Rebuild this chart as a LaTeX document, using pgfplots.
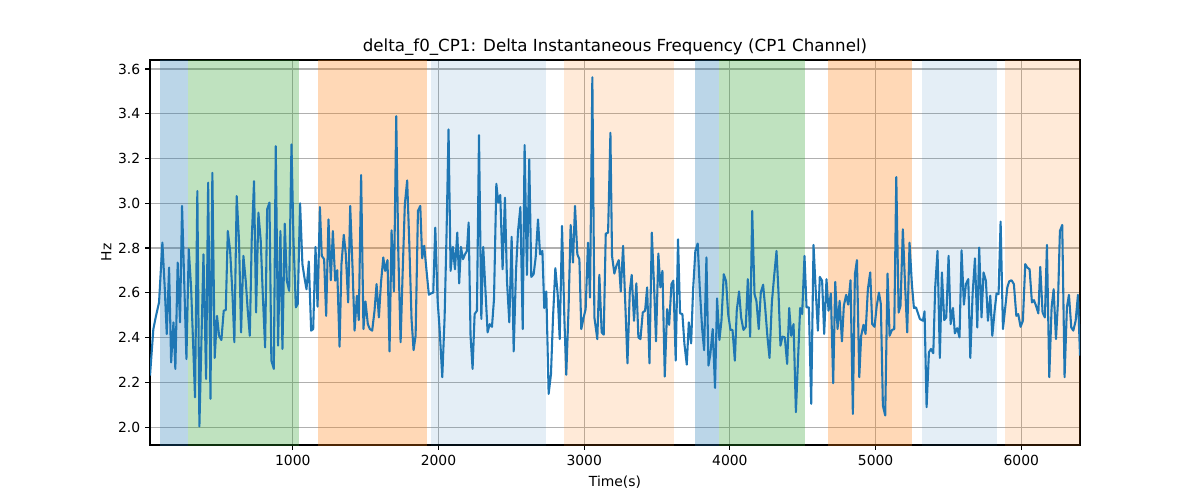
\documentclass[border=0pt]{standalone}
\usepackage{fontspec}
\setmainfont{DejaVu Sans}
\usepackage{pgfplots}
\pgfplotsset{compat=1.18}
\definecolor{tabblue}{HTML}{1F77B4}
\definecolor{taborange}{HTML}{FF7F0E}
\definecolor{tabgreen}{HTML}{2CA02C}
\definecolor{gridgray}{HTML}{B0B0B0}
\begin{document}
\begin{tikzpicture}
\path[use as bounding box] (0,0) rectangle (864pt,360pt);
\begin{axis}[
  at={(108pt,39.6pt)}, anchor=south west,
  width=669.6pt, height=277.2pt, scale only axis,
  xmin=20, xmax=6403, ymin=1.92, ymax=3.64,
  xtick={1000,2000,3000,4000,5000,6000},
  ytick={2.0,2.2,2.4,2.6,2.8,3.0,3.2,3.4,3.6},
  yticklabel style={/pgf/number format/.cd, fixed, fixed zerofill, precision=1},
  xticklabel style={/pgf/number format/1000 sep={}},
  /pgf/number format/assume math mode=true,
  ticklabel style={font=\fontsize{10}{12}\selectfont},
  tick align=outside, xtick pos=left, ytick pos=left,
  major tick length=3.5pt,
  tick style={black, line width=0.8pt},
  axis line style={black, line width=0.8pt},
  grid=major, grid style={gridgray, line width=0.8pt},
  title={delta\_f0\_CP1: Delta Instantaneous Frequency (CP1 Channel)},
  title style={font=\fontsize{12}{14}\selectfont, at={(0.5,1)}, anchor=south, yshift=-6pt},
  xlabel={Time(s)}, ylabel={Hz},
  label style={font=\fontsize{10}{12}\selectfont},
  xlabel style={yshift=-1pt},
  ylabel style={yshift=-2pt},
  clip=true,
]
% spans
\addplot[draw=none, fill=tabblue, fill opacity=0.3] coordinates {(89,1.8) (282,1.8) (282,3.8) (89,3.8)} --cycle;
\addplot[draw=none, fill=tabgreen, fill opacity=0.3] coordinates {(282,1.8) (1044,1.8) (1044,3.8) (282,3.8)} --cycle;
\addplot[draw=none, fill=taborange, fill opacity=0.3] coordinates {(1170,1.8) (1918,1.8) (1918,3.8) (1170,3.8)} --cycle;
\addplot[draw=none, fill=tabblue, fill opacity=0.12] coordinates {(1946,1.8) (2736,1.8) (2736,3.8) (1946,3.8)} --cycle;
\addplot[draw=none, fill=taborange, fill opacity=0.16] coordinates {(2861,1.8) (3615,1.8) (3615,3.8) (2861,3.8)} --cycle;
\addplot[draw=none, fill=tabblue, fill opacity=0.3] coordinates {(3759,1.8) (3926,1.8) (3926,3.8) (3759,3.8)} --cycle;
\addplot[draw=none, fill=tabgreen, fill opacity=0.3] coordinates {(3926,1.8) (4514,1.8) (4514,3.8) (3926,3.8)} --cycle;
\addplot[draw=none, fill=taborange, fill opacity=0.3] coordinates {(4672,1.8) (5249,1.8) (5249,3.8) (4672,3.8)} --cycle;
\addplot[draw=none, fill=tabblue, fill opacity=0.12] coordinates {(5318,1.8) (5836,1.8) (5836,3.8) (5318,3.8)} --cycle;
\addplot[draw=none, fill=taborange, fill opacity=0.16] coordinates {(5890,1.8) (6500,1.8) (6500,3.8) (5890,3.8)} --cycle;
% series
\addplot[tabblue, line width=1.5pt, mark=none, line join=round] coordinates {
(20,2.230) (43,2.438) (59,2.490) (82,2.557) (105,2.824) (121,2.624) (135,2.416) (151,2.713) (165,2.289) (181,2.468)
(194,2.260) (210,2.735) (226,2.468) (240,2.988) (256,2.624) (270,2.304) (286,2.795) (302,2.624) (316,2.371) (329,2.133)
(345,3.055) (359,2.003) (373,2.386) (387,2.772) (405,2.215) (419,3.092) (435,2.126) (448,3.136) (464,2.309) (480,2.497)
(494,2.408) (510,2.389) (526,2.520) (540,2.523) (554,2.876) (570,2.787) (586,2.594) (599,2.379) (615,3.032) (631,2.832)
(645,2.423) (661,2.765) (677,2.654) (691,2.520) (705,2.408) (718,2.832) (734,3.099) (748,2.512) (764,2.958) (780,2.832)
(794,2.594) (810,2.356) (824,2.973) (840,3.003) (853,2.297) (870,2.260) (883,3.255) (899,2.364) (915,2.876) (929,2.349)
(945,2.909) (959,2.654) (975,2.609) (991,3.263) (1005,2.832) (1021,2.535) (1034,2.550) (1050,3.000) (1066,2.728) (1080,2.668)
(1094,2.616) (1110,2.740) (1126,2.431) (1140,2.438) (1156,2.805) (1170,2.538) (1186,2.983) (1199,2.765) (1215,2.750) (1229,2.497)
(1245,2.928) (1261,2.656) (1275,2.876) (1291,2.654) (1305,2.701) (1321,2.359) (1334,2.728) (1350,2.859) (1364,2.772) (1380,2.557)
(1394,2.988) (1410,2.713) (1424,2.431) (1440,2.587) (1453,2.478) (1469,3.126) (1485,2.438) (1499,2.561) (1515,2.460) (1529,2.438)
(1545,2.431) (1561,2.520) (1575,2.639) (1591,2.490) (1605,2.642) (1621,2.758) (1634,2.698) (1650,2.746) (1664,2.338) (1678,2.879)
(1694,2.606) (1710,3.389) (1724,2.787) (1740,2.379) (1753,2.668) (1769,2.995) (1785,3.102) (1799,2.832) (1815,2.483) (1829,2.344)
(1843,2.408) (1859,2.966) (1875,2.988) (1888,2.754) (1902,2.810) (1918,2.698) (1934,2.591) (1948,2.597) (1964,2.601) (1978,2.891)
(1994,2.564) (2007,2.445) (2026,2.223) (2042,2.490) (2055,2.854) (2069,3.330) (2083,2.698) (2099,2.805) (2113,2.705) (2129,2.869)
(2142,2.642) (2154,2.805) (2168,2.750) (2182,2.772) (2195,2.787) (2207,2.914) (2220,2.408) (2234,2.260) (2248,2.505) (2264,2.520)
(2278,3.304) (2294,2.483) (2307,2.805) (2323,2.602) (2337,2.423) (2351,2.460) (2367,2.448) (2381,2.572) (2397,3.087) (2410,3.003)
(2424,3.037) (2440,2.705) (2456,3.025) (2470,2.654) (2486,2.468) (2502,2.850) (2516,2.338) (2532,2.698) (2546,2.876) (2562,2.983)
(2578,2.438) (2591,3.260) (2607,2.680) (2623,3.196) (2637,2.671) (2653,2.683) (2667,2.758) (2683,2.928) (2697,2.772) (2713,2.787)
(2726,2.532) (2740,2.606) (2756,2.148) (2772,2.237) (2786,2.490) (2802,2.710) (2818,2.594) (2832,2.393) (2848,2.899) (2864,2.483)
(2877,2.234) (2893,2.535) (2907,2.903) (2923,2.735) (2937,2.988) (2953,2.772) (2967,2.750) (2980,2.438) (2996,2.490) (3010,2.527)
(3026,2.824) (3040,2.579) (3056,3.563) (3070,2.490) (3090,2.393) (3104,2.680) (3120,2.423) (3134,2.413) (3148,2.864) (3164,2.869)
(3180,3.315) (3191,2.765) (3207,2.686) (3221,2.720) (3237,2.746) (3251,2.606) (3267,2.810) (3283,2.535) (3297,2.285) (3313,2.606)
(3326,2.680) (3342,2.475) (3358,2.642) (3372,2.401) (3386,2.393) (3402,2.512) (3418,2.520) (3432,2.624) (3448,2.285) (3464,2.869)
(3480,2.624) (3493,2.383) (3509,2.775) (3523,2.624) (3537,2.698) (3553,2.226) (3569,2.527) (3583,2.457) (3599,2.639) (3612,2.654)
(3628,2.297) (3644,2.839) (3658,2.508) (3674,2.505) (3688,2.371) (3704,2.279) (3718,2.468) (3734,2.374) (3747,2.609) (3763,2.787)
(3779,2.820) (3793,2.624) (3809,2.445) (3823,2.344) (3839,2.758) (3853,2.275) (3866,2.327) (3882,2.438) (3898,2.175) (3912,2.575)
(3928,2.389) (3942,2.475) (3958,2.683) (3974,2.651) (3988,2.505) (4004,2.434) (4018,2.434) (4034,2.297) (4047,2.520) (4063,2.606)
(4077,2.490) (4093,2.434) (4109,2.448) (4123,2.661) (4139,2.404) (4153,2.966) (4169,2.594) (4182,2.564) (4198,2.438) (4212,2.601)
(4228,2.636) (4242,2.535) (4258,2.401) (4272,2.309) (4288,2.557) (4304,2.676) (4320,2.787) (4334,2.594) (4347,2.364) (4361,2.404)
(4377,2.401) (4393,2.282) (4407,2.532) (4421,2.408) (4437,2.460) (4453,2.067) (4466,2.275) (4482,2.532) (4496,2.505) (4512,2.765)
(4526,2.535) (4542,2.535) (4558,2.104) (4574,2.814) (4588,2.624) (4604,2.431) (4617,2.671) (4633,2.654) (4647,2.416) (4663,2.661)
(4677,2.520) (4693,2.597) (4709,2.196) (4723,2.649) (4739,2.438) (4753,2.564) (4769,2.383) (4782,2.542) (4798,2.591) (4812,2.547)
(4828,2.656) (4844,2.059) (4858,2.683) (4872,2.746) (4888,2.223) (4901,2.408) (4917,2.457) (4931,2.416) (4947,2.616) (4963,2.691)
(4977,2.460) (4993,2.448) (5007,2.538) (5023,2.601) (5036,2.550) (5050,2.096) (5066,2.052) (5082,2.686) (5096,2.408) (5112,2.434)
(5128,2.438) (5142,3.117) (5158,2.512) (5171,2.542) (5187,2.884) (5203,2.624) (5217,2.423) (5233,2.824) (5249,2.639) (5263,2.532)
(5277,2.535) (5304,2.483) (5325,2.475) (5336,2.517) (5350,2.089) (5366,2.334) (5380,2.349) (5396,2.330) (5409,2.624) (5425,2.787)
(5441,2.309) (5455,2.691) (5471,2.478) (5485,2.490) (5501,2.765) (5515,2.460) (5531,2.532) (5544,2.419) (5560,2.442) (5576,2.401)
(5590,2.790) (5606,2.547) (5620,2.639) (5636,2.661) (5650,2.309) (5666,2.597) (5682,2.754) (5698,2.445) (5711,2.802) (5727,2.490)
(5741,2.691) (5757,2.654) (5771,2.475) (5787,2.587) (5801,2.408) (5817,2.520) (5830,2.597) (5844,2.594) (5858,2.918) (5874,2.438)
(5890,2.535) (5904,2.624) (5917,2.651) (5933,2.656) (5949,2.639) (5966,2.497) (5979,2.505) (5995,2.448) (6011,2.475) (6027,2.728)
(6041,2.713) (6057,2.705) (6073,2.557) (6087,2.567) (6101,2.542) (6117,2.508) (6130,2.716) (6146,2.512) (6162,2.490) (6176,2.814)
(6192,2.223) (6208,2.535) (6222,2.616) (6238,2.393) (6252,2.564) (6265,2.876) (6281,2.903) (6297,2.223) (6313,2.535) (6327,2.591)
(6343,2.445) (6357,2.431) (6373,2.475) (6389,2.591) (6403,2.319)
};
\end{axis}
\end{tikzpicture}
\end{document}
